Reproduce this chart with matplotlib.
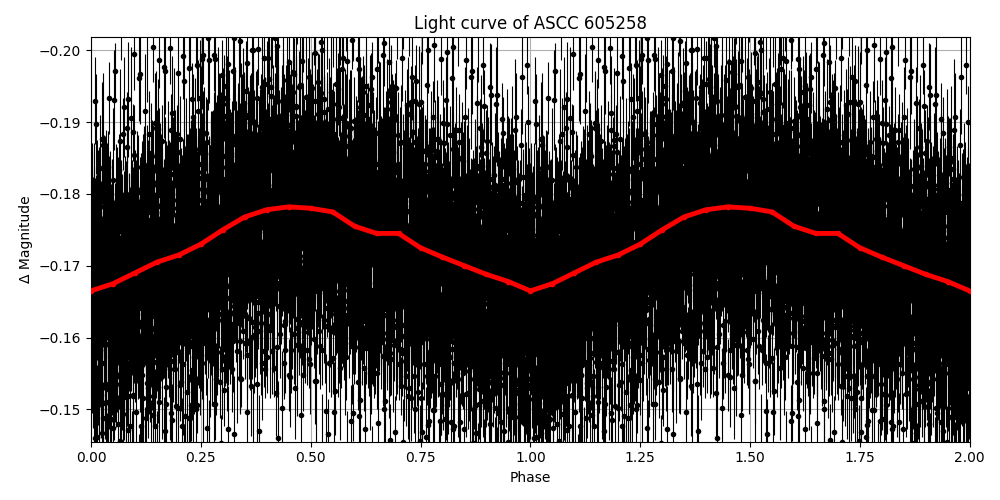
import matplotlib
matplotlib.use("Agg")
import matplotlib.pyplot as plt
import numpy as np

# binned mean curve (phase 0..1, repeated for 1..2)
bin_phase = [0.0, 0.05, 0.1, 0.15, 0.2, 0.25, 0.3, 0.35, 0.4, 0.45, 0.5, 0.55,
             0.6, 0.65, 0.7, 0.75, 0.8, 0.85, 0.9, 0.95, 1.0]
bin_mag = [-0.1665, -0.1675, -0.1690, -0.1705, -0.1715, -0.1730, -0.1750, -0.1768,
           -0.1778, -0.1782, -0.1780, -0.1775, -0.1755, -0.1745, -0.1745, -0.1725,
           -0.1712, -0.1700, -0.1688, -0.1678, -0.1665]

# estimated scatter of individual points about the mean (typed offset components)
resid_a = [0.005, -0.008, 0.002, 0.010, -0.004, -0.012, 0.007, 0.001, -0.006, 0.014,
           -0.002, 0.003, -0.010, 0.008, -0.005, 0.012, -0.015, 0.003, -0.001, 0.006,
           -0.008, 0.011, -0.003, 0.002, -0.012, 0.007, 0.000, -0.005, 0.021, -0.009,
           0.004, -0.003, 0.009, -0.023, 0.003, -0.007, 0.013, -0.001, 0.005, -0.011,
           0.026, -0.027, 0.002, -0.004, 0.008, -0.006, 0.017]
resid_b = [0.0031, -0.0047, 0.0012, 0.0055, -0.0021, -0.0038, 0.0044, -0.0009, 0.0026,
           -0.0053, 0.0018, 0.0007, -0.0032, 0.0049, -0.0015, 0.0036, -0.0060, 0.0003,
           0.0058, -0.0026, 0.0022, -0.0042, 0.0010]
resid_c = [0.0014, -0.0027, 0.0033, -0.0008, 0.0021, -0.0035, 0.0005, 0.0029,
           -0.0018, -0.0002, 0.0011]
errors = [0.004, 0.006, 0.008, 0.005, 0.007, 0.010, 0.005]

n = 3300
ph = np.linspace(0, 1, n, endpoint=False)
base = np.interp(ph, bin_phase, bin_mag)
res = np.array([resid_a[i % len(resid_a)] + resid_b[(i * 7) % len(resid_b)]
                + resid_c[(i * 3) % len(resid_c)] for i in range(n)])
err = np.array([errors[(i * 3) % len(errors)] for i in range(n)])
mag = base + res

fig, ax = plt.subplots(figsize=(10, 5), dpi=100)
for shift in (0, 1):
    ax.errorbar(ph + shift, mag, yerr=err, fmt='.', color='black', ecolor='black',
                elinewidth=0.8, markersize=6, zorder=2)
bp = np.array(bin_phase)
ax.plot(np.concatenate([bp, bp[1:] + 1]), np.concatenate([bin_mag, bin_mag[1:]]),
        color='red', linewidth=3.5, marker='o', markersize=3, zorder=3)
ax.set_xlim(0, 2)
ax.set_ylim(-0.1455, -0.2018)
ax.grid(True, zorder=0)
ax.set_axisbelow(True)
ax.set_xlabel("Phase")
ax.set_ylabel("Δ Magnitude")
ax.set_title("Light curve of ASCC 605258")
fig.tight_layout()
fig.subplots_adjust(left=0.091)
fig.savefig("out.png")
